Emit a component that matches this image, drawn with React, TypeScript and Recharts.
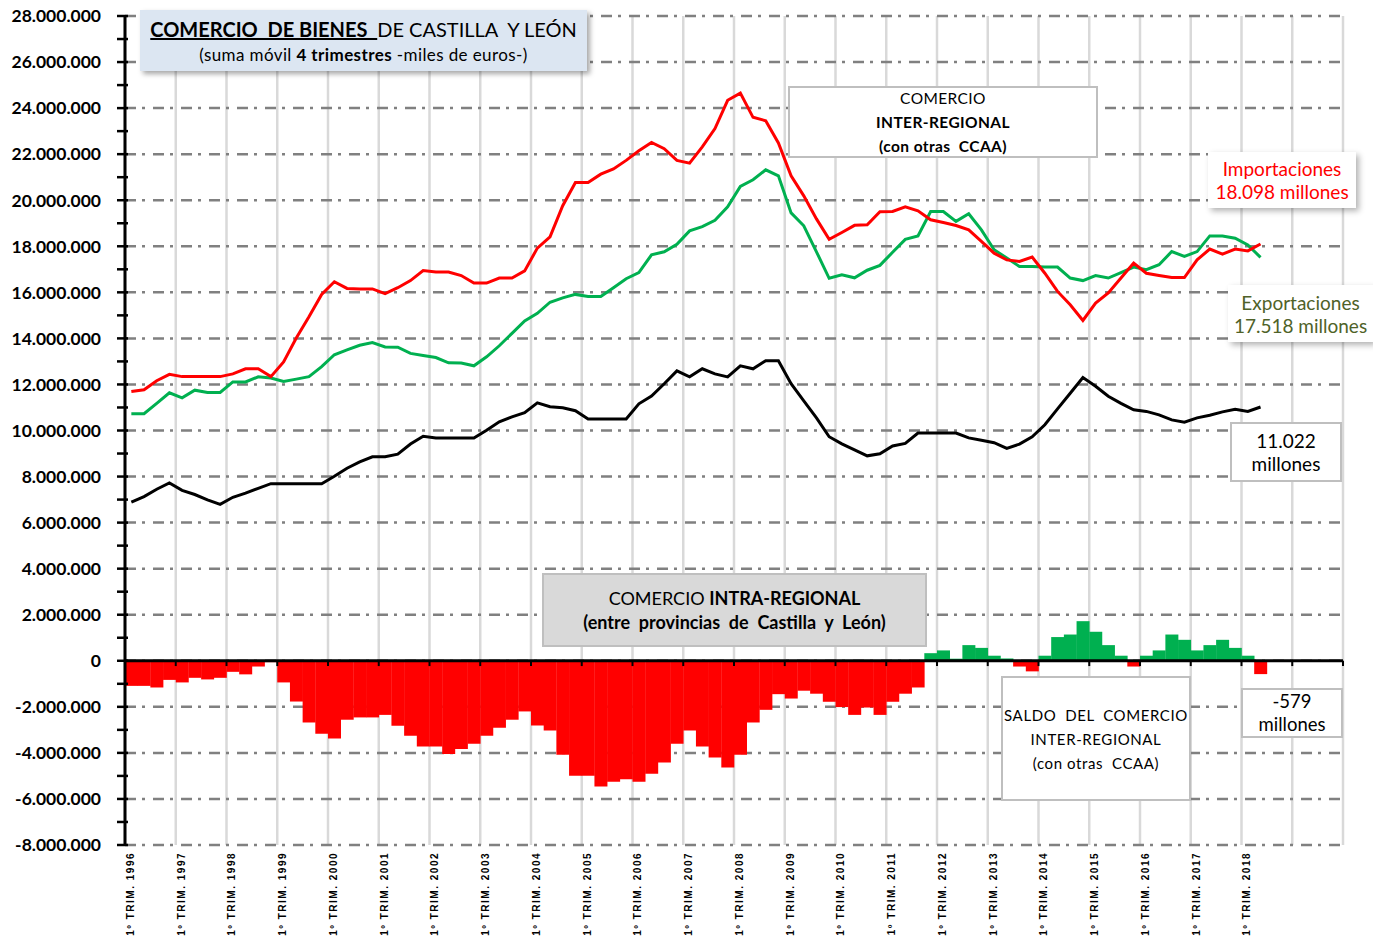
import React from 'react';
import { ComposedChart, Bar, Line, XAxis, YAxis, CartesianGrid, ReferenceLine, Cell } from 'recharts';

// Ejes: años con trimestres (el eje llega hasta 2019, los datos hasta 2º trim. 2018)
const years = [1996, 1997, 1998, 1999, 2000, 2001, 2002, 2003, 2004, 2005, 2006, 2007, 2008, 2009, 2010, 2011, 2012, 2013, 2014, 2015, 2016, 2017, 2018, 2019];
const quarters = ['1º', '2º', '3º', '4º'];
const labelYears = [1996, 1997, 1998, 1999, 2000, 2001, 2002, 2003, 2004, 2005, 2006, 2007, 2008, 2009, 2010, 2011, 2012, 2013, 2014, 2015, 2016, 2017, 2018];

// millones de euros (suma móvil 4 trimestres)
const importaciones = [
  11690, 11770, 12160, 12440, 12340, 12340, 12340, 12340, 12460, 12680, 12680, 12340,
  12980, 14020, 14940, 15910, 16460, 16170, 16150, 16150, 15940, 16200, 16510, 16950,
  16880, 16880, 16730, 16400, 16400, 16620, 16620, 16930, 17920, 18410, 19760, 20770,
  20770, 21130, 21360, 21730, 22150, 22510, 22240, 21730, 21610, 22320, 23110, 24340,
  24650, 23600, 23450, 22490, 21060, 20190, 19190, 18300, 18600, 18910, 18930, 19500,
  19510, 19710, 19540, 19150, 19030, 18900, 18710, 18210, 17700, 17410, 17340, 17530,
  16830, 16040, 15460, 14780, 15530, 15970, 16620, 17270, 16830, 16730, 16640, 16640,
  17410, 17880, 17660, 17880, 17800, 18098,
];
const exportaciones = [
  10730, 10730, 11180, 11640, 11420, 11750, 11650, 11650, 12110, 12110, 12330, 12280,
  12130, 12230, 12340, 12770, 13290, 13500, 13700, 13820, 13630, 13620, 13350, 13260,
  13170, 12940, 12930, 12810, 13200, 13680, 14220, 14760, 15090, 15570, 15760, 15910,
  15820, 15820, 16200, 16590, 16860, 17630, 17760, 18090, 18670, 18850, 19130, 19710,
  20600, 20890, 21320, 21060, 19450, 18890, 17760, 16610, 16760, 16630, 16960, 17170,
  17740, 18300, 18450, 19510, 19510, 19080, 19410, 18710, 17850, 17490, 17120, 17120,
  17100, 17100, 16620, 16510, 16730, 16620, 16860, 17100, 16980, 17200, 17770, 17560,
  17770, 18450, 18450, 18350, 18060, 17518,
];
const intraRegional = [
  6890, 7130, 7450, 7720, 7400, 7220, 6990, 6790, 7100, 7280, 7490, 7690,
  7690, 7690, 7690, 7690, 8010, 8360, 8640, 8860, 8860, 8970, 9410, 9750,
  9670, 9670, 9670, 9670, 10010, 10380, 10590, 10770, 11200, 11030, 10990, 10860,
  10500, 10500, 10500, 10500, 11160, 11500, 12030, 12590, 12330, 12680, 12460, 12330,
  12810, 12680, 13030, 13030, 12030, 11290, 10550, 9730, 9420, 9160, 8900, 8990,
  9330, 9440, 9890, 9890, 9890, 9890, 9680, 9580, 9470, 9220, 9410, 9730,
  10250, 10940, 11620, 12300, 11920, 11490, 11180, 10900, 10830, 10680, 10460, 10360,
  10550, 10660, 10810, 10920, 10830, 11022,
];
const saldo = [
  -1090, -1090, -1160, -830, -940, -740, -810, -740, -480, -590, -250, -60,
  -940, -1770, -2680, -3170, -3370, -2560, -2460, -2460, -2350, -2820, -3260, -3720,
  -3720, -4050, -3830, -3600, -3260, -2910, -2560, -2200, -2810, -3030, -4080, -4990,
  -4990, -5460, -5250, -5140, -5250, -4910, -4420, -3600, -3030, -3720, -4200, -4630,
  -4080, -2680, -2130, -1450, -1640, -1300, -1430, -1780, -2010, -2350, -2030, -2350,
  -1780, -1430, -1160, 330, 450, 90, 680, 560, 220, 100, -250, -460,
  220, 1030, 1140, 1720, 1260, 680, 220, -250, 220, 450, 1140, 910,
  450, 680, 910, 560, 220, -579,
];

const Y_MIN = -8000;
const Y_MAX = 28000;
const yTicks: number[] = [];
for (let v = Y_MIN; v <= Y_MAX; v += 1000) yTicks.push(v);
const gridTicks = yTicks.filter((v) => v % 2000 === 0);

const categories = years.flatMap((y) => quarters.map((q) => `${q} TRIM. ${y}`));
const xLabelTicks = labelYears.map((y) => `1º TRIM. ${y}`);
const yearBounds = years.map((_, i) => (i + 1) * 4); // límites de año en el eje numérico auxiliar

const data = categories.map((q, i) => ({
  q,
  n: i + 0.5,
  importaciones: importaciones[i] ?? null,
  exportaciones: exportaciones[i] ?? null,
  intra: intraRegional[i] ?? null,
  saldo: saldo[i] ?? null,
}));

const RED = '#FF0000';
const GREEN = '#00B050';
const FONT = 'Lato, "Liberation Sans", Arial, sans-serif';

// miles de euros con puntos de miles
const fmt = (v: number) => {
  const s = String(Math.abs(v * 1000)).replace(/\B(?=(\d{3})+(?!\d))/g, '.');
  return v < 0 ? `-${s}` : s;
};

const YTick = (props: any) => {
  const { x, y, payload } = props;
  const v = payload.value as number;
  return (
    <g>
      <line x1={x - 8} x2={x + 3} y1={y} y2={y} stroke="#000" strokeWidth={2.5} />
      {v % 2000 === 0 && (
        <text x={x - 24} y={y} dy="0.36em" textAnchor="end" fontFamily={FONT} fontWeight={700} fontSize={17.5} fill="#000">
          {fmt(v)}
        </text>
      )}
    </g>
  );
};

const XTick = (props: any) => {
  const { x, y, payload } = props;
  return (
    <text
      transform={`translate(${x - 1},${y + 7}) rotate(-90)`}
      dy="0.35em"
      textAnchor="end"
      fontFamily='"Liberation Sans", Arial, sans-serif'
      fontWeight={700}
      fontSize={10}
      letterSpacing={1.5}
      fill="#000"
    >
      {payload.value}
    </text>
  );
};

const box = (s: React.CSSProperties): React.CSSProperties => ({
  position: 'absolute',
  boxSizing: 'border-box',
  background: '#fff',
  fontFamily: FONT,
  textAlign: 'center',
  whiteSpace: 'pre',
  display: 'flex',
  flexDirection: 'column',
  justifyContent: 'center',
  ...s,
});

export default function App() {
  return (
    <div style={{ position: 'absolute', left: 0, top: 0, width: 1373, height: 942, background: '#fff' }}>
      <ComposedChart
        width={1373}
        height={942}
        data={data}
        margin={{ top: 16, right: 30, bottom: 0, left: 0 }}
        barCategoryGap={0}
        barGap={0}
      >
        <XAxis
          dataKey="q"
          ticks={xLabelTicks}
          interval={0}
          height={97}
          axisLine={false}
          tickLine={false}
          tickSize={0}
          tickMargin={0}
          tick={<XTick />}
        />
        <XAxis xAxisId="num" dataKey="n" type="number" domain={[0, 96]} allowDataOverflow ticks={[0, ...yearBounds]} hide />
        <YAxis
          domain={[Y_MIN, Y_MAX]}
          ticks={yTicks}
          interval={0}
          width={125}
          axisLine={{ stroke: '#000', strokeWidth: 3 }}
          tickLine={false}
          tickSize={0}
          tickMargin={0}
          tick={<YTick />}
          allowDataOverflow
        />
        <YAxis yAxisId="grid" domain={[Y_MIN, Y_MAX]} ticks={gridTicks} allowDataOverflow hide />
        <CartesianGrid xAxisId="num" yAxisId="grid" horizontal={false} stroke="#d9d9d9" strokeWidth={2.5} />
        <CartesianGrid xAxisId="num" yAxisId="grid" vertical={false} stroke="#808080" strokeWidth={2.5} strokeDasharray="11 6 3 8" />
        <Bar dataKey="saldo" isAnimationActive={false}>
          {data.map((d, i) => (
            <Cell key={i} fill={(d.saldo ?? 0) >= 0 ? GREEN : RED} />
          ))}
        </Bar>
        <ReferenceLine y={0} stroke="#000" strokeWidth={3} />
        {yearBounds.map((b) => (
          <ReferenceLine
            key={b}
            xAxisId="num"
            segment={[{ x: b, y: 0 }, { x: b, y: -230 }]}
            stroke="#000"
            strokeWidth={2}
          />
        ))}
        <Line dataKey="intra" stroke="#000" strokeWidth={3} dot={false} activeDot={false} isAnimationActive={false} />
        <Line dataKey="exportaciones" stroke={GREEN} strokeWidth={3} dot={false} activeDot={false} isAnimationActive={false} />
        <Line dataKey="importaciones" stroke={RED} strokeWidth={3} dot={false} activeDot={false} isAnimationActive={false} />
      </ComposedChart>

      {/* Título */}
      <div style={box({ left: 140, top: 10, width: 447, height: 61, background: '#DCE6F2', boxShadow: '3px 3px 5px rgba(0,0,0,0.35)', lineHeight: '25px', paddingTop: 2 })}>
        <div style={{ fontSize: 20, color: '#000' }}>
          <span style={{ fontWeight: 700, textDecoration: 'underline' }}>{'COMERCIO  DE BIENES  '}</span>
          <span>{'DE CASTILLA  Y LEÓN'}</span>
        </div>
        <div style={{ fontSize: 17, color: '#000', letterSpacing: 0.4 }}>
          {'(suma móvil '}<b>4 trimestres</b>{' -miles de euros-)'}
        </div>
      </div>

      <div style={box({ left: 788, top: 86, width: 310, height: 72, border: '2px solid #bfbfbf', fontSize: 15.5, lineHeight: '24px', letterSpacing: 0.4 })}>
        <div>COMERCIO</div>
        <div style={{ fontWeight: 700 }}>INTER-REGIONAL</div>
        <div style={{ fontWeight: 700 }}>{'(con otras  CCAA)'}</div>
      </div>

      <div style={box({ left: 1208, top: 152, width: 148, height: 56, boxShadow: '3px 3px 6px rgba(0,0,0,0.3)', color: RED, fontSize: 19, lineHeight: '23px' })}>
        <div>Importaciones</div>
        <div>18.098 millones</div>
      </div>

      <div style={box({ left: 1228, top: 285, width: 145, height: 57, boxShadow: '3px 3px 6px rgba(0,0,0,0.3)', color: '#4F6228', fontSize: 19, lineHeight: '23px' })}>
        <div>Exportaciones</div>
        <div>17.518 millones</div>
      </div>

      <div style={box({ left: 1230, top: 422, width: 112, height: 60, border: '2px solid #bfbfbf', fontSize: 19, lineHeight: '23px' })}>
        <div>11.022</div>
        <div>millones</div>
      </div>

      <div style={box({ left: 542, top: 573, width: 385, height: 74, background: '#D9D9D9', border: '2px solid #bfbfbf', fontSize: 18, lineHeight: '24px' })}>
        <div>
          {'COMERCIO '}<b>INTRA-REGIONAL</b>
        </div>
        <div style={{ fontWeight: 700 }}>{'(entre  provincias  de  Castilla  y  León)'}</div>
      </div>

      <div style={box({ left: 1001, top: 676, width: 190, height: 125, border: '2px solid #bfbfbf', fontSize: 15, lineHeight: '24px', letterSpacing: 0.6 })}>
        <div>{'SALDO  DEL  COMERCIO'}</div>
        <div>INTER-REGIONAL</div>
        <div>{'(con otras  CCAA)'}</div>
      </div>

      <div style={box({ left: 1241, top: 688, width: 102, height: 50, border: '2px solid #bfbfbf', fontSize: 18.5, lineHeight: '23px' })}>
        <div>-579</div>
        <div>millones</div>
      </div>
    </div>
  );
}
